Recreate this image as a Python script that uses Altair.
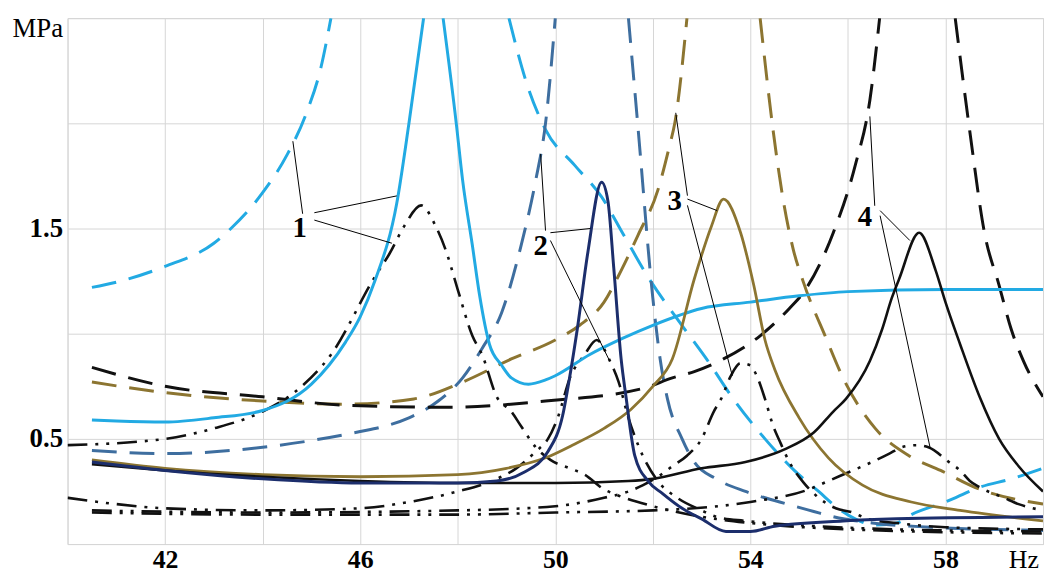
import altair as alt
import pandas as pd

# ---------------- data (Hz, MPa) ----------------
# set 1 : light blue dashed (two branches around the off-scale resonance)
lbd_a_hz = [40.5, 41, 42, 43, 43.35, 44, 44.5, 44.9, 45.2, 45.4]
lbd_a_mpa = [1.22, 1.245, 1.32, 1.43, 1.5, 1.67, 1.85, 2.05, 2.27, 2.5]
lbd_b_hz = [49.05, 49.4, 49.8, 50.4, 50.95, 51.4, 51.9, 52.5, 53.1, 53.65, 54.3, 54.9,
            55.4, 55.8, 56.15, 56.55, 57.0, 57.3, 58.0, 58.7, 59.35, 60.0]
lbd_b_mpa = [2.5, 2.2, 1.97, 1.8, 1.65, 1.47, 1.27, 1.07, 0.88, 0.69, 0.5, 0.35,
             0.25, 0.17, 0.12, 0.09, 0.1, 0.14, 0.2, 0.27, 0.31, 0.36]
# set 1 : light blue solid
lbs_a_hz = [40.5, 41, 42, 43, 44, 45, 45.7, 46.0, 46.3, 46.75, 47.0, 47.3]
lbs_a_mpa = [0.59, 0.585, 0.58, 0.6, 0.635, 0.76, 0.96, 1.08, 1.25, 1.62, 2.0, 2.5]
lbs_b_hz = [47.7, 47.97, 48.1, 48.3, 48.45, 48.65, 48.9, 49.1, 49.45, 49.8, 50.0, 50.7,
            51.4, 52.0, 53.0, 54.0, 55.0, 56.0, 58.0, 60.0]
lbs_b_mpa = [2.5, 2.0, 1.73, 1.42, 1.18, 0.95, 0.85, 0.79, 0.76, 0.78, 0.8, 0.9,
             0.98, 1.04, 1.12, 1.15, 1.18, 1.2, 1.21, 1.21]
# set 2 : steel blue dashed
sd_a_hz = [40.5, 42, 44, 46, 46.5, 47, 47.6, 48.1, 48.5, 48.9, 49.3, 49.6, 49.8, 50.0]
sd_a_mpa = [0.445, 0.43, 0.46, 0.535, 0.56, 0.6, 0.68, 0.79, 0.93, 1.1, 1.42, 1.73, 2.0, 2.5]
sd_b_hz = [51.5, 51.7, 52.0, 52.15, 52.3, 52.6, 52.85, 53.3, 53.9, 54.6, 55.3, 55.7,
           56.5, 57.7, 60.0]
sd_b_mpa = [2.5, 1.97, 1.17, 0.88, 0.69, 0.5, 0.39, 0.31, 0.25, 0.2, 0.155, 0.13,
            0.1, 0.08, 0.065]
# set 2 : navy solid
ns_hz = [40.5, 42, 44, 46, 48, 48.8, 49.35, 49.85, 50.15, 50.3, 50.45, 50.67, 50.95,
         51.08, 51.2, 51.35, 51.45, 51.63, 51.9, 52.2, 52.6, 53.0, 53.5, 54.0, 54.5,
         55.9, 57.0, 60.0]
ns_mpa = [0.39, 0.35, 0.31, 0.29, 0.29, 0.3, 0.34, 0.44, 0.61, 0.8, 1.02, 1.39, 1.72,
          1.63, 1.31, 0.88, 0.7, 0.42, 0.3, 0.24, 0.17, 0.12, 0.06, 0.06, 0.085,
          0.11, 0.12, 0.13]
# set 3 : olive dashed
od_a_hz = [40.5, 42, 44, 45.7, 47.1, 48.1, 49.1, 50.0, 50.5, 51.0, 51.35, 51.7, 52.1,
           52.35, 52.45, 52.7]
od_a_mpa = [0.77, 0.72, 0.68, 0.665, 0.69, 0.77, 0.88, 0.97, 1.04, 1.15, 1.3, 1.47, 1.68,
            1.9, 2.0, 2.5]
od_b_hz = [54.2, 54.47, 54.67, 54.88, 55.08, 55.55, 55.9, 56.56, 57.25, 57.9, 58.6, 60.0]
od_b_mpa = [2.5, 1.96, 1.64, 1.4, 1.25, 0.98, 0.79, 0.55, 0.42, 0.35, 0.27, 0.19]
# set 3 : olive solid
os_hz = [40.5, 42, 44, 46, 48, 49, 49.8, 50.35, 51.0, 51.55, 52.0, 52.4, 52.85, 53.2,
         53.45, 53.8, 54.07, 54.3, 54.5, 55.0, 55.6, 56.3, 57.3, 58.3, 60.0]
os_mpa = [0.4, 0.36, 0.33, 0.32, 0.33, 0.36, 0.41, 0.47, 0.55, 0.64, 0.75, 0.88, 1.26,
          1.51, 1.64, 1.48, 1.23, 0.97, 0.83, 0.6, 0.41, 0.28, 0.2, 0.16, 0.11]
# set 4 : black dashed
bd_a_hz = [40.5, 42, 44, 45.7, 47.8, 49.8, 51.8, 52.4, 52.85, 53.45, 54.2, 54.8, 55.1,
           55.7, 56.15, 56.45, 56.65]
bd_a_mpa = [0.84, 0.75, 0.7, 0.66, 0.65, 0.68, 0.74, 0.79, 0.82, 0.88, 0.99, 1.12, 1.2,
            1.48, 1.8, 2.11, 2.5]
bd_b_hz = [58.2, 58.5, 58.8, 59.1, 59.35, 59.6, 60.0]
bd_b_mpa = [2.5, 1.96, 1.48, 1.23, 1.02, 0.87, 0.7]
# set 4 : black solid
bs_hz = [40.5, 42, 44, 46, 48, 50, 51.5, 52, 53, 53.9, 54.7, 55.3, 55.7, 55.96, 56.45,
         56.7, 56.9, 57.05, 57.46, 57.8, 58.0, 58.3, 58.7, 59.1, 59.5, 60.0]
bs_mpa = [0.38, 0.35, 0.32, 0.3, 0.29, 0.29, 0.3, 0.31, 0.36, 0.39, 0.45, 0.53, 0.63,
          0.69, 0.87, 1.02, 1.17, 1.26, 1.48, 1.3, 1.15, 0.95, 0.7, 0.5, 0.37, 0.25]
# dash-dot-dot (black) curves of sets 1-4
ddd1_hz = [40, 42, 43, 44, 44.7, 45.4, 46.3, 46.6, 46.9, 47.25, 47.55, 47.75, 48.0, 48.3,
           48.5, 48.8, 49.1, 49.3, 49.6, 49.9, 50.3, 50.6, 51.0, 51.3, 52.0, 53.0, 54.0,
           56.0, 60.0]
ddd1_mpa = [0.47, 0.5, 0.55, 0.63, 0.73, 0.9, 1.27, 1.38, 1.51, 1.61, 1.51, 1.4, 1.21,
            0.99, 0.9, 0.7, 0.63, 0.56, 0.46, 0.4, 0.36, 0.33, 0.26, 0.23, 0.18, 0.13,
            0.1, 0.07, 0.05]
ddd2_hz = [40, 41, 42, 44, 46, 47, 48, 48.7, 49.2, 49.6, 49.85, 50.05, 50.3, 50.6, 50.85,
           51.1, 51.3, 51.5, 51.7, 52.1, 52.5, 53.0, 53.3, 53.9, 55.0, 57.0, 60.0]
ddd2_mpa = [0.22, 0.19, 0.17, 0.16, 0.17, 0.2, 0.25, 0.3, 0.36, 0.44, 0.5, 0.6, 0.79, 0.9,
            0.97, 0.88, 0.77, 0.6, 0.47, 0.3, 0.22, 0.16, 0.13, 0.11, 0.09, 0.07, 0.06]
ddd3_hz = [40.5, 44, 48, 50, 51, 51.5, 51.8, 52.1, 52.4, 52.7, 53.0, 53.25, 53.4, 53.6,
           53.8, 54.0, 54.13, 54.3, 54.47, 54.6, 54.8, 55.1, 55.35, 55.75, 56.1, 56.4,
           57.0, 58.0, 60.0]
ddd3_mpa = [0.16, 0.15, 0.16, 0.18, 0.22, 0.25, 0.28, 0.32, 0.37, 0.42, 0.5, 0.63, 0.69,
            0.8, 0.86, 0.85, 0.8, 0.69, 0.56, 0.49, 0.39, 0.29, 0.23, 0.17, 0.15, 0.12,
            0.1, 0.08, 0.07]
ddd4_hz = [40.5, 44, 48, 50, 52, 52.5, 54, 55.2, 55.6, 56.1, 56.4, 56.85, 57.1, 57.4,
           57.65, 58.07, 58.3, 58.5, 58.7, 59.2, 59.5, 60.0]
ddd4_mpa = [0.15, 0.14, 0.14, 0.15, 0.16, 0.165, 0.2, 0.26, 0.3, 0.35, 0.38, 0.43, 0.46,
            0.47, 0.46, 0.39, 0.35, 0.3, 0.27, 0.22, 0.19, 0.16]

# annotation numbers and their leader lines (data units)
ann_text = ["1", "2", "3", "4"]
ann_hz = [44.76, 49.7, 52.45, 56.35]
ann_mpa = [1.5, 1.415, 1.632, 1.552]
lead_hz = [44.82, 45.06, 45.06, 49.8, 49.9, 49.9, 52.71, 52.71, 52.71, 56.55, 56.66, 56.66]
lead_mpa = [1.57, 1.575, 1.54, 1.49, 1.48, 1.443, 1.656, 1.64, 1.61, 1.608, 1.585, 1.561]
lead_hz2 = [44.62, 46.75, 46.65, 49.7, 50.72, 51.12, 52.47, 53.32, 53.63, 56.45, 57.27, 57.69]
lead_mpa2 = [1.915, 1.655, 1.43, 1.854, 1.5, 0.868, 2.05, 1.585, 0.8, 2.033, 1.443, 0.453]

x_ticks = [40, 42, 44, 46, 48, 50, 52, 54, 56, 58, 60]
y_ticks = [0, 0.5, 1.0, 1.5, 2.0, 2.5]

# ---------------- styles ----------------
LB = "#22aae3"
STEEL = "#3e6e9f"
NAVY = "#1c2e6c"
OLIVE = "#8c7531"
BLACK = "#111111"
DASH = [25, 13]
DDD = [20, 8, 3, 8, 3, 8]

series = [
    ("lbd_a", lbd_a_hz, lbd_a_mpa, LB, DASH, 3.0),
    ("lbd_b", lbd_b_hz, lbd_b_mpa, LB, DASH, 3.0),
    ("sd_a", sd_a_hz, sd_a_mpa, STEEL, DASH, 3.0),
    ("sd_b", sd_b_hz, sd_b_mpa, STEEL, DASH, 3.0),
    ("od_a", od_a_hz, od_a_mpa, OLIVE, DASH, 3.0),
    ("od_b", od_b_hz, od_b_mpa, OLIVE, DASH, 3.0),
    ("bd_a", bd_a_hz, bd_a_mpa, BLACK, DASH, 3.0),
    ("bd_b", bd_b_hz, bd_b_mpa, BLACK, DASH, 3.0),
    ("ddd1", ddd1_hz, ddd1_mpa, BLACK, DDD, 2.6),
    ("ddd2", ddd2_hz, ddd2_mpa, BLACK, DDD, 2.6),
    ("ddd3", ddd3_hz, ddd3_mpa, BLACK, DDD, 2.6),
    ("ddd4", ddd4_hz, ddd4_mpa, BLACK, DDD, 2.6),
    ("lbs_a", lbs_a_hz, lbs_a_mpa, LB, None, 3.0),
    ("lbs_b", lbs_b_hz, lbs_b_mpa, LB, None, 3.0),
    ("os", os_hz, os_mpa, OLIVE, None, 2.8),
    ("bs", bs_hz, bs_mpa, BLACK, None, 2.6),
    ("ns", ns_hz, ns_mpa, NAVY, None, 3.0),
]

SERIF = "Liberation Serif"

x_axis = alt.Axis(
    values=x_ticks, grid=True, gridColor="#d6d6d6", gridWidth=1, domain=False, ticks=False,
    labelExpr="indexof([42, 46, 50, 54, 58], datum.value) >= 0 ? datum.label : ''",
    labelFont=SERIF, labelFontSize=26, labelFontWeight="bold", labelColor="black",
    labelPadding=3, labelOverlap=False, labelFlush=False,
    title="Hz", titleFont=SERIF, titleFontSize=26, titleFontWeight="normal",
    titleColor="black", titleX=948, titleY=16, titleAlign="left", titleBaseline="middle",
)
y_axis = alt.Axis(
    values=y_ticks, grid=True, gridColor="#d6d6d6", gridWidth=1, domain=False, ticks=False,
    format=".1f",
    labelExpr="(datum.value == 0.5 || datum.value == 1.5) ? datum.label : ''",
    labelFont=SERIF, labelFontSize=27, labelFontWeight="bold", labelColor="black",
    labelPadding=5, labelOverlap=False, labelFlush=False,
    title="MPa", titleFont=SERIF, titleFontSize=27, titleFontWeight="normal",
    titleColor="black", titleAngle=0, titleX=-5, titleY=11, titleAlign="right",
    titleBaseline="middle",
)
xs = alt.Scale(domain=[40, 60], nice=False, zero=False)
ys = alt.Scale(domain=[0, 2.5], nice=False, zero=False)

layers = []
for name, hz, mpa, color, dash, w in series:
    df = pd.DataFrame({"hz": hz, "mpa": mpa})
    kw = dict(color=color, strokeWidth=w, interpolate="monotone", clip=True, strokeCap="butt")
    if dash is not None:
        kw["strokeDash"] = dash
    layers.append(
        alt.Chart(df).mark_line(**kw).encode(
            x=alt.X("hz:Q", scale=xs, axis=x_axis),
            y=alt.Y("mpa:Q", scale=ys, axis=y_axis),
        )
    )

lead_df = pd.DataFrame({"hz": lead_hz, "mpa": lead_mpa, "hz2": lead_hz2, "mpa2": lead_mpa2})
layers.append(
    alt.Chart(lead_df).mark_rule(color="black", strokeWidth=1).encode(
        x=alt.X("hz:Q", scale=xs, axis=x_axis),
        y=alt.Y("mpa:Q", scale=ys, axis=y_axis),
        x2="hz2:Q", y2="mpa2:Q",
    )
)
ann_df = pd.DataFrame({"hz": ann_hz, "mpa": ann_mpa, "t": ann_text})
layers.append(
    alt.Chart(ann_df).mark_text(font=SERIF, fontSize=29, fontWeight="bold", color="black",
                                align="center", baseline="middle").encode(
        x=alt.X("hz:Q", scale=xs, axis=x_axis),
        y=alt.Y("mpa:Q", scale=ys, axis=y_axis),
        text="t:N",
    )
)

chart = alt.layer(*layers).properties(
    width=983, height=530,
    autosize=alt.AutoSizeParams(type="none"),
    padding={"left": 60, "top": 8, "right": 1, "bottom": 34},
    background="white",
).configure_view(stroke="#d6d6d6", strokeWidth=1)

chart.save("out.html", embed_options={"renderer": "svg", "actions": False})
